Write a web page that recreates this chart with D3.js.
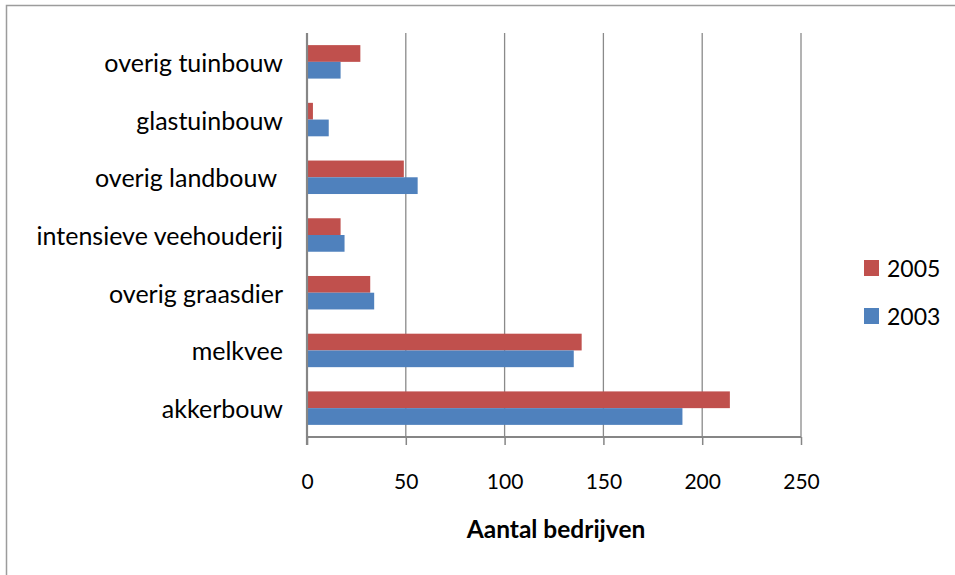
<!DOCTYPE html>
<html>
<head>
<meta charset="utf-8">
<script src="https://cdn.jsdelivr.net/npm/d3@7"></script>
<style>
  html, body { margin: 0; padding: 0; background: #fff; }
  svg { display: block; font-family: Lato, "Open Sans", sans-serif; }
</style>
</head>
<body>
<svg id="chart" width="955" height="575"></svg>
<script>
// Sectors, top to bottom as drawn
const categories = [
  "overig tuinbouw",
  "glastuinbouw",
  "overig landbouw ",
  "intensieve veehouderij",
  "overig graasdier",
  "melkvee",
  "akkerbouw"
];
const series = ["2005", "2003"];
const values2005 = [27, 3, 49, 17, 32, 139, 214];
const values2003 = [17, 11, 56, 19, 34, 135, 190];
const xTicks = [0, 50, 100, 150, 200, 250];
const colors = ["#c0504d", "#4f81bd"];
const axisTitle = "Aantal bedrijven";

const svg = d3.select("#chart");

// outer chart frame (extends past the right and bottom edges)
svg.append("rect")
  .attr("x", 6.5).attr("y", 5.5)
  .attr("width", 1000).attr("height", 700)
  .attr("fill", "#fff")
  .attr("stroke", "#9c9c9c").attr("stroke-width", 1.5);

const plot = { left: 307, right: 801, top: 33, bottom: 437 };

const x = d3.scaleLinear().domain([0, 250]).range([plot.left, plot.right]);
const y = d3.scaleBand().domain(categories).range([plot.top, plot.bottom])
  .paddingInner(0.42).paddingOuter(0.21);
const ySub = d3.scaleBand().domain(series).range([0, y.bandwidth()]);

// vertical gridlines
svg.append("g")
  .selectAll("line")
  .data(xTicks.slice(1))
  .join("line")
  .attr("x1", d => x(d)).attr("x2", d => x(d))
  .attr("y1", plot.top).attr("y2", plot.bottom)
  .attr("stroke", "#8a8a8a").attr("stroke-width", 1.3);

// bars
const rows = categories.map((c, i) => ({ c, v: [values2005[i], values2003[i]] }));
const groups = svg.append("g").selectAll("g")
  .data(rows).join("g")
  .attr("transform", d => `translate(0,${y(d.c)})`);
groups.selectAll("rect")
  .data(d => d.v.map((v, j) => ({ s: series[j], v, j })))
  .join("rect")
  .attr("x", x(0))
  .attr("y", d => ySub(d.s))
  .attr("width", d => x(d.v) - x(0))
  .attr("height", ySub.bandwidth())
  .attr("fill", d => colors[d.j]);

// x axis
const xAxis = d3.axisBottom(x).tickValues(xTicks).tickSize(8).tickPadding(29);
const gx = svg.append("g")
  .attr("transform", `translate(0,${plot.bottom})`)
  .call(xAxis);
gx.select(".domain").attr("stroke", "#868686").attr("stroke-width", 2)
  .attr("d", `M${plot.left},0H${plot.right}`);
gx.selectAll(".tick line").attr("stroke", "#868686").attr("stroke-width", 1.5);
gx.selectAll(".tick text")
  .attr("font-family", "Lato, 'Open Sans', sans-serif")
  .attr("font-size", 21).attr("fill", "#000");

// y axis (vertical line at zero)
svg.append("line")
  .attr("x1", x(0)).attr("x2", x(0))
  .attr("y1", plot.top).attr("y2", plot.bottom + 8)
  .attr("stroke", "#868686").attr("stroke-width", 2.2);

// category labels
svg.append("g").selectAll("text")
  .data(categories).join("text")
  .attr("x", 283)
  .attr("y", d => y(d) + y.bandwidth() / 2 + 10)
  .attr("text-anchor", "end")
  .attr("font-size", 25)
  .attr("fill", "#000")
  .style("white-space", "pre")
  .text(d => d);

// axis title
svg.append("text")
  .attr("x", (plot.left + plot.right) / 2 + 2)
  .attr("y", 538)
  .attr("text-anchor", "middle")
  .attr("font-size", 24.5)
  .attr("font-weight", "bold")
  .attr("fill", "#000")
  .text(axisTitle);

// legend
const legend = svg.append("g").selectAll("g")
  .data(series).join("g")
  .attr("transform", (d, i) => `translate(864,${260 + i * 48})`);
legend.append("rect")
  .attr("width", 15).attr("height", 16)
  .attr("fill", (d, i) => colors[i]);
legend.append("text")
  .attr("x", 23).attr("y", 17)
  .attr("font-size", 23)
  .attr("fill", "#000")
  .text(d => d);
</script>
</body>
</html>
